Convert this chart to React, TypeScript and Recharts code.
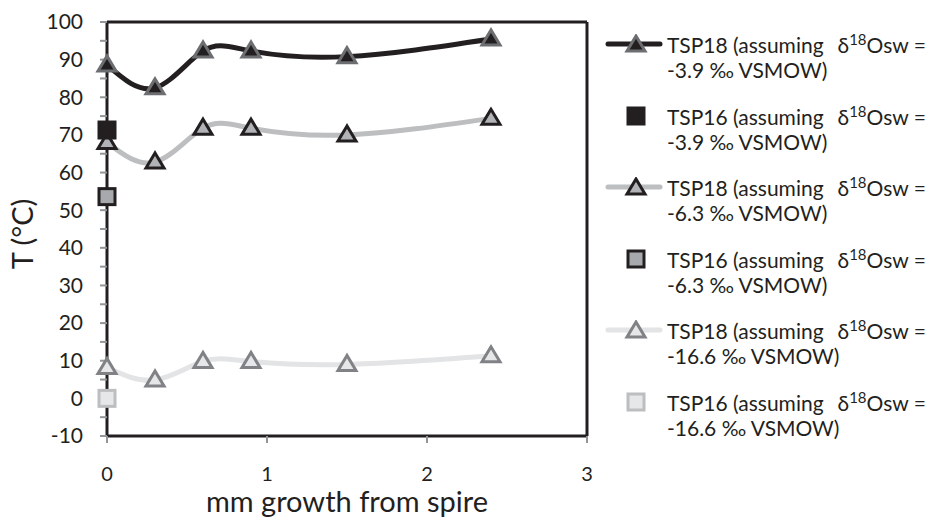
import React from "react";
import {
  ComposedChart,
  Line,
  Scatter,
  XAxis,
  YAxis,
  ReferenceLine,
  Label,
} from "recharts";

// growth positions (mm from spire) sampled along TSP18
const growthMm = [0, 0.3, 0.6, 0.9, 1.5, 2.4];

// TSP18 temperatures (°C) for three seawater δ18O assumptions
const tsp18Sw39 = [88.6, 82.5, 92.3, 92.3, 90.8, 95.5];
const tsp18Sw63 = [68, 62.8, 71.8, 71.8, 70, 74.4];
const tsp18Sw166 = [8.2, 4.9, 9.8, 9.8, 9, 11.3];

// TSP16 single measurement at the spire
const tsp16X = [0];
const tsp16Sw39 = [71.3];
const tsp16Sw63 = [53.6];
const tsp16Sw166 = [0];

const xTicks = [0, 1, 2, 3];
const yTicks = [-10, -5, 0, 5, 10, 15, 20, 25, 30, 35, 40, 45, 50, 55, 60, 65, 70, 75, 80, 85, 90, 95, 100];

const legendItems = [
  { kind: "line", label: "TSP18", sw: "-3.9" },
  { kind: "square", label: "TSP16", sw: "-3.9" },
  { kind: "line", label: "TSP18", sw: "-6.3" },
  { kind: "square", label: "TSP16", sw: "-6.3" },
  { kind: "line", label: "TSP18", sw: "-16.6" },
  { kind: "square", label: "TSP16", sw: "-16.6" },
];

const INK = "#231f20";
const FONT = "Lato, 'Open Sans', sans-serif";

const styles = [
  { line: INK, fill: INK, stroke: "#6d6e71" },
  { line: "#bcbec0", fill: "#b1b3b6", stroke: INK },
  { line: "#e3e4e5", fill: "#e6e7e8", stroke: "#808285" },
];
const squareStyles = [
  { fill: INK, stroke: INK },
  { fill: "#a7a9ac", stroke: INK },
  { fill: "#e6e7e8", stroke: "#bcbec0" },
];

const lineData = growthMm.map((x, i) => ({
  x,
  a: tsp18Sw39[i],
  b: tsp18Sw63[i],
  c: tsp18Sw166[i],
}));
const sq39 = tsp16X.map((x, i) => ({ x, y: tsp16Sw39[i] }));
const sq63 = tsp16X.map((x, i) => ({ x, y: tsp16Sw63[i] }));
const sq166 = tsp16X.map((x, i) => ({ x, y: tsp16Sw166[i] }));

function triPoints(cx: number, cy: number, w = 18, h = 15) {
  return `${cx},${cy - h * 0.6} ${cx - w / 2},${cy + h * 0.4} ${cx + w / 2},${cy + h * 0.4}`;
}

const triangleDot = (s: { fill: string; stroke: string }) => (props: any) => {
  const { cx, cy, index } = props;
  return (
    <polygon
      key={`t-${index}`}
      points={triPoints(cx, cy)}
      fill={s.fill}
      stroke={s.stroke}
      strokeWidth={3}
    />
  );
};

const squareShape = (s: { fill: string; stroke: string }) => (props: any) => {
  const { cx, cy } = props;
  return (
    <rect x={cx - 8} y={cy - 8} width={16} height={16} fill={s.fill} stroke={s.stroke} strokeWidth={3} />
  );
};

function YTick(props: any) {
  const { x, y, payload } = props;
  if (payload.value % 10 !== 0) return <g />;
  return (
    <text x={x} y={y} dy="0.35em" textAnchor="end" fontSize={21} fill={INK} fontFamily={FONT}>
      {payload.value}
    </text>
  );
}

function XTick(props: any) {
  const { x, y, payload } = props;
  return (
    <text x={x} y={y} dy="0.35em" textAnchor="middle" fontSize={20} fill={INK} fontFamily={FONT}>
      {payload.value}
    </text>
  );
}

function XTitle(props: any) {
  const { viewBox } = props;
  return (
    <text
      x={viewBox.x + viewBox.width / 2}
      y={512}
      textAnchor="middle"
      fontSize={29}
      fill={INK}
      fontFamily={FONT}
    >
      mm growth from spire
    </text>
  );
}

function YTitle() {
  return (
    <text
      x={0}
      y={0}
      transform="translate(33 234) rotate(-90)"
      textAnchor="middle"
      fontSize={29}
      fill={INK}
      fontFamily={FONT}
    >
      T (°C)
    </text>
  );
}

function LegendIcon({ kind, idx }: { kind: string; idx: number }) {
  const s = styles[idx];
  const q = squareStyles[idx];
  return (
    <svg width={58} height={20} style={{ display: "block" }}>
      {kind === "line" ? (
        <>
          <line x1={3} y1={10} x2={55} y2={10} stroke={s.line} strokeWidth={5} strokeLinecap="round" />
          <polygon points={triPoints(31, 11)} fill={s.fill} stroke={s.stroke} strokeWidth={3} />
        </>
      ) : (
        <rect x={23} y={2} width={16} height={16} fill={q.fill} stroke={q.stroke} strokeWidth={3} />
      )}
    </svg>
  );
}

function SideLegend() {
  let lineIdx = 0;
  let sqIdx = 0;
  return (
    <div
      style={{
        position: "absolute",
        left: 605,
        top: 32,
        fontFamily: FONT,
        fontSize: 21,
        color: INK,
        lineHeight: "25px",
      }}
    >
      {legendItems.map((it, i) => {
        const idx = it.kind === "line" ? lineIdx++ : sqIdx++;
        return (
          <div key={i} style={{ display: "flex", marginBottom: 21.5 }}>
            <div style={{ width: 62, paddingTop: 2 }}>
              <LegendIcon kind={it.kind} idx={idx} />
            </div>
            <div>
              <div style={{ whiteSpace: "nowrap" }}>
                {it.label} (assuming
                <span style={{ marginLeft: 14 }}>
                  δ<sup style={{ fontSize: 15, lineHeight: 0 }}>18</sup>Osw =
                </span>
              </div>
              <div>{it.sw} ‰ VSMOW)</div>
            </div>
          </div>
        );
      })}
    </div>
  );
}

export default function App() {
  return (
    <div
      style={{
        position: "absolute",
        left: 0,
        top: 0,
        width: 937,
        height: 518,
        overflow: "hidden",
        background: "#fff",
      }}
    >
      <ComposedChart
        width={937}
        height={518}
        data={lineData}
        margin={{ top: 22, right: 350, bottom: 0, left: 0 }}
      >
        <XAxis
          type="number"
          dataKey="x"
          domain={[0, 3]}
          ticks={xTicks}
          height={82}
          axisLine={{ stroke: INK, strokeWidth: 3 }}
          tickLine={{ stroke: "#939598", strokeWidth: 2 }}
          tickSize={7}
          tickMargin={31}
          tick={<XTick />}
        >
          <Label content={<XTitle />} />
        </XAxis>
        <YAxis
          type="number"
          domain={[-10, 100]}
          ticks={yTicks}
          interval={0}
          width={107}
          axisLine={{ stroke: INK, strokeWidth: 3 }}
          tickLine={{ stroke: "#939598", strokeWidth: 2 }}
          tickSize={7}
          tickMargin={17}
          tick={<YTick />}
        >
          <Label content={<YTitle />} />
        </YAxis>
        <ReferenceLine y={100} stroke={INK} strokeWidth={3} />
        <ReferenceLine x={3} stroke={INK} strokeWidth={3} />

        <Line
          dataKey="c"
          type="natural"
          stroke={styles[2].line}
          strokeWidth={5}
          dot={triangleDot(styles[2])}
          activeDot={false}
          isAnimationActive={false}
        />
        <Line
          dataKey="b"
          type="natural"
          stroke={styles[1].line}
          strokeWidth={5}
          dot={triangleDot(styles[1])}
          activeDot={false}
          isAnimationActive={false}
        />
        <Line
          dataKey="a"
          type="natural"
          stroke={styles[0].line}
          strokeWidth={5}
          dot={triangleDot(styles[0])}
          activeDot={false}
          isAnimationActive={false}
        />
        <Scatter data={sq166} dataKey="y" shape={squareShape(squareStyles[2])} isAnimationActive={false} />
        <Scatter data={sq63} dataKey="y" shape={squareShape(squareStyles[1])} isAnimationActive={false} />
        <Scatter data={sq39} dataKey="y" shape={squareShape(squareStyles[0])} isAnimationActive={false} />
      </ComposedChart>
      <SideLegend />
    </div>
  );
}
